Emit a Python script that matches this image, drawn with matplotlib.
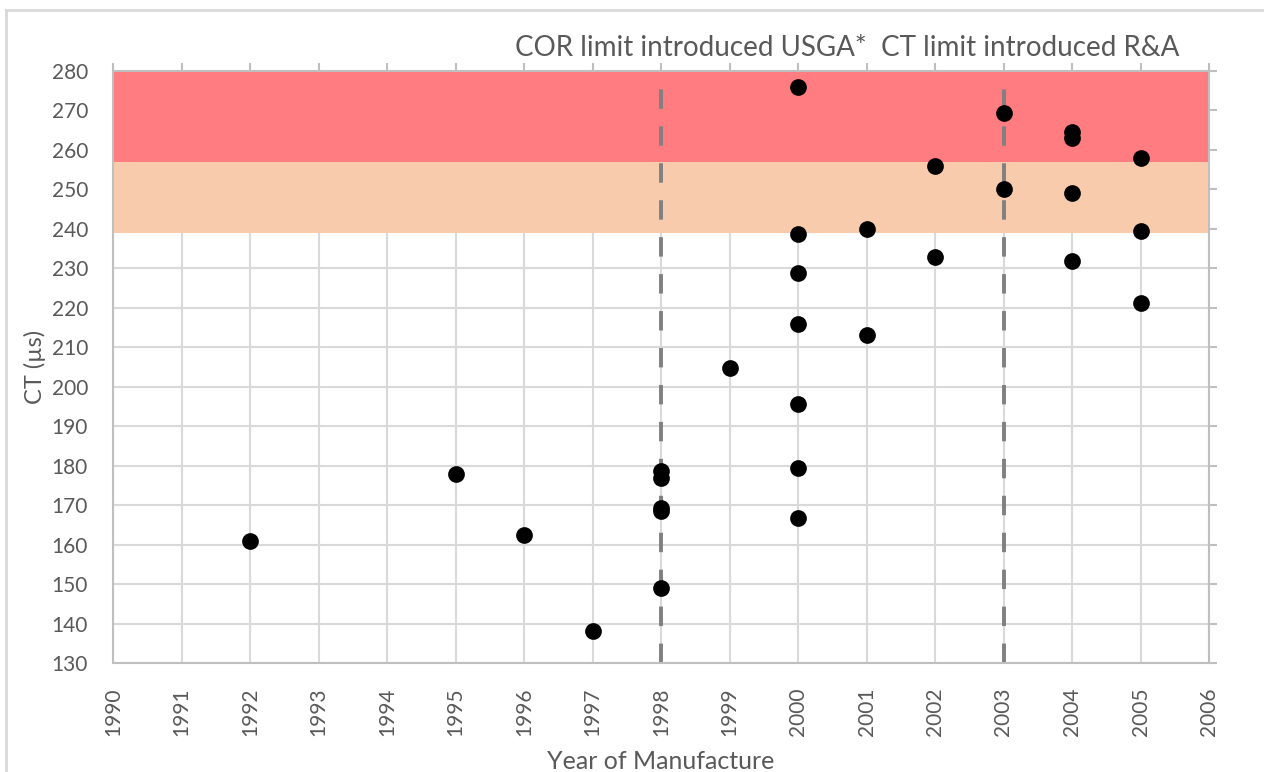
import matplotlib
matplotlib.use("Agg")
import matplotlib.pyplot as plt
from matplotlib.lines import Line2D

# --- data ---
years = [1992, 1995, 1996, 1997,
         1998, 1998, 1998, 1998, 1998,
         1999,
         2000, 2000, 2000, 2000, 2000, 2000, 2000,
         2001, 2001,
         2002, 2002,
         2003, 2003,
         2004, 2004, 2004, 2004,
         2005, 2005, 2005]
ct_values = [161, 178, 162.5, 138,
             178.6, 177, 169.3, 168.5, 149,
             204.7,
             276, 238.7, 228.8, 216, 195.7, 179.3, 166.8,
             240, 213,
             256, 232.8,
             269.4, 250,
             264.5, 263, 249, 231.8,
             258, 239.5, 221.3]

limit_years = [1998, 2003]
limit_labels = ["COR limit introduced USGA*", "CT limit introduced R&A"]
label_x = [1998.44, 2003.39]

red_band = (257, 280)
orange_band = (239, 257)

x_ticks = list(range(1990, 2007))
y_ticks = list(range(130, 281, 10))

TEXT = "#595959"
GRID = "#D9D9D9"

plt.rcParams['font.family'] = ['Lato', 'DejaVu Sans']

fig = plt.figure(figsize=(12.64, 7.72), dpi=100)
ax = fig.add_axes([113 / 1264, 1 - 663 / 772, (1209 - 113) / 1264, (663 - 71) / 772])

# light frame around the chart (left and top edges visible)
fig.add_artist(Line2D([6 / 1264, 6 / 1264], [0, 1 - 10 / 772], transform=fig.transFigure,
                      color=GRID, lw=2))
fig.add_artist(Line2D([6 / 1264, 1], [1 - 10 / 772, 1 - 10 / 772], transform=fig.transFigure,
                      color=GRID, lw=2))

ax.set_xlim(1990, 2006)
ax.set_ylim(130, 280)
ax.set_xticks(x_ticks)
ax.set_yticks(y_ticks)
ax.set_xticklabels([str(y) for y in x_ticks], rotation=90)
ax.grid(True, color=GRID, lw=1.5, zorder=0)
ax.set_axisbelow(True)

ax.axhspan(*red_band, color="#FF7C80", lw=0, zorder=1)
ax.axhspan(*orange_band, color="#F8CBAD", lw=0, zorder=1)

for yr in limit_years:
    ax.axvline(yr, color="#808080", lw=2.8, dashes=(5, 4.5), zorder=2)

ax.scatter(years, ct_values, s=145, color="black", zorder=3, linewidths=0)

for xv, txt in zip(label_x, limit_labels):
    ax.text(xv, 282.5, txt, ha="center", va="bottom", fontsize=20, color=TEXT)

for side, sp in ax.spines.items():
    sp.set_color("#BFBFBF")
    sp.set_linewidth(1.5)

ax.tick_params(axis="both", which="both", colors="#BFBFBF", labelcolor=TEXT, labelsize=15,
               direction="out", length=6, width=1.5,
               bottom=False, left=False, top=True, right=True,
               labelbottom=True, labelleft=True, labeltop=False, labelright=False)
ax.tick_params(axis="x", pad=12)
ax.tick_params(axis="y", pad=12)

ax.set_xlabel("Year of Manufacture", fontsize=18, color=TEXT, labelpad=10)
ax.set_ylabel("CT (\u00b5s)", fontsize=17, color=TEXT, labelpad=4)

fig.savefig("out.png", dpi=100)
